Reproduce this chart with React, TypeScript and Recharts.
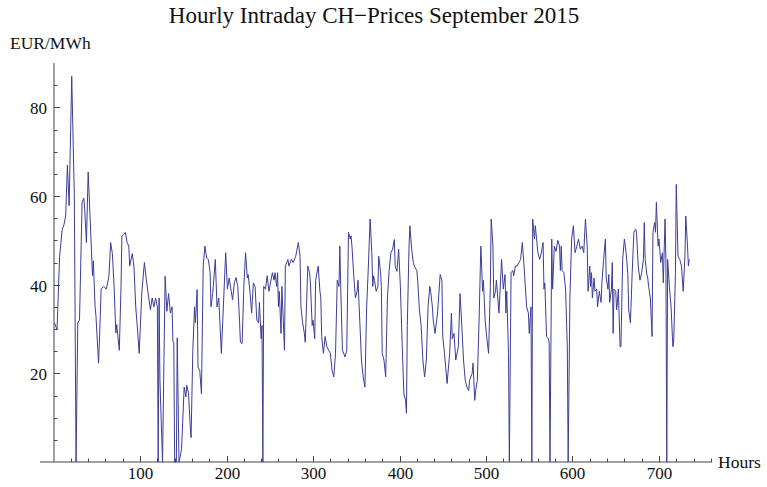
import { LineChart, Line, XAxis, YAxis } from 'recharts';

// hour of the month and intraday price (EUR/MWh)
const HOURS = [
  1, 4, 7, 10, 12, 14, 16, 18, 21, 24, 26, 28, 30, 33, 35, 36, 38, 40, 42, 45, 46, 48, 49, 52, 53, 55,
  58, 61, 64, 66, 68, 70, 72, 73, 76, 78, 79, 81, 83, 85, 87, 88, 91, 93, 95, 97, 99, 102, 105, 107,
  109, 112, 114, 116, 118, 120, 121, 122, 123, 126, 129, 131, 133, 135, 137, 138, 139, 140, 142, 143,
  145, 147, 148, 151, 153, 154, 156, 158, 159, 161, 163, 164, 166, 167, 169, 171, 173, 175, 177, 179,
  181, 182, 184, 187, 189, 191, 194, 197, 199, 201, 203, 205, 207, 209, 211, 213, 215, 216, 218, 220,
  222, 224, 225, 227, 229, 231, 233, 235, 237, 238, 240, 241, 242, 243, 245, 247, 249, 253, 255, 256,
  258, 259, 260, 261, 263, 264, 267, 268, 271, 272, 275, 277, 280, 283, 285, 286, 288, 290, 291, 293,
  294, 296, 297, 299, 300, 302, 303, 306, 308, 309, 310, 312, 314, 316, 318, 320, 322, 324, 326, 328,
  330, 331, 332, 334, 337, 339, 341, 343, 344, 345, 347, 349, 351, 352, 354, 356, 358, 360, 362, 364,
  366, 368, 369, 370, 371, 373, 375, 376, 378, 379, 380, 382, 384, 386, 388, 390, 392, 394, 395, 397,
  399, 401, 403, 405, 407, 408, 409, 411, 412, 414, 416, 417, 420, 421, 423, 425, 427, 429, 431, 433,
  435, 436, 438, 439, 441, 444, 447, 449, 450, 452, 455, 458, 460, 461, 463, 465, 468, 470, 472, 474,
  476, 478, 480, 481, 484, 485, 487, 488, 490, 492, 494, 495, 496, 497, 499, 501, 503, 505, 506, 508,
  509, 511, 512, 515, 518, 520, 522, 523, 524, 526, 527, 529, 531, 532, 534, 536, 538, 540, 542, 544,
  545, 547, 549, 550, 552, 553, 554, 556, 557, 560, 562, 564, 566, 567, 568, 570, 572, 573, 574, 576,
  577, 579, 581, 583, 585, 586, 587, 588, 590, 592, 594, 595, 597, 599, 601, 603, 605, 607, 609, 611,
  613, 615, 617, 618, 620, 621, 622, 623, 625, 626, 628, 629, 631, 633, 634, 636, 638, 639, 641, 642,
  643, 645, 646, 647, 648, 650, 651, 652, 653, 655, 656, 658, 660, 662, 664, 665, 667, 669, 671, 673,
  674, 676, 678, 680, 682, 683, 684, 686, 687, 688, 690, 692, 693, 695, 696, 697, 699, 700, 702, 704,
  705, 707, 708, 709, 710, 712, 714, 716, 717, 719, 720, 722, 724, 726, 728, 730, 731, 733, 734, 735,
];

const PRICES = [
  31.4, 29.8, 46.4, 52.5, 53.5, 55.5, 67, 57.8, 87, 60, 0, 31.4, 32, 58.6, 59.5, 57, 49.5, 65.4, 56.3, 42, 45.4, 35, 33, 22.3, 27, 39,
  39.6, 39, 41.9, 49.5, 47, 39.6, 29.1, 31, 25.2, 39.6, 51, 51.3, 51.8, 49.5, 48.7, 44.2, 47, 44, 35, 30, 24.5, 38.1, 45, 41.5,
  38.5, 34.3, 37, 35, 37, 35, 0, 37, 18.4, 0, 41.9, 34, 38, 33.6, 35, 27.1, 27, 0, 0, 28,
  0, 1.8, 3, 16.9, 14.7, 17.3, 15.5, 8.2, 5.5, 25.2, 35, 31.4, 38.9, 21.4, 20.7, 15.4, 44.2, 48.7, 46, 45.6,
  42.7, 35, 38, 45.7, 35, 37, 24.5, 38.1, 47.2, 39, 41.5, 39, 36.6, 40.4, 41.6, 39.6, 32, 27, 26.7, 39.6,
  47.2, 41.5, 42.3, 38.5, 33.6, 40.4, 39.6, 32, 31.4, 36, 27.8, 30.8, 0, 39.6, 39, 42, 38.5, 42.7, 41, 42.7,
  39.6, 42.7, 35, 38.5, 29, 39.6, 25.2, 44.2, 45.7, 44.2, 45.7, 45, 46.4, 49.5, 46.4, 35, 31.4, 29, 27, 38.5,
  44.2, 42.7, 40.4, 30.8, 32, 27.8, 41, 44.2, 38.5, 37, 28.3, 24.5, 28.3, 26, 25.2, 24.5, 20.7, 19.2, 24.5, 41,
  39.6, 48.7, 39.6, 25.2, 23.7, 25.2, 51.8, 50.3, 51, 48.7, 42.3, 37, 38.5, 41, 32, 23, 19.2, 16.9, 35, 44.2,
  54.8, 47.2, 39.6, 42, 41, 38.5, 39.6, 46.4, 43, 39.6, 24.5, 23, 19.2, 37, 43.2, 47.2, 48, 50.2, 44.2, 43,
  48, 39.6, 27, 15.4, 13.9, 11, 30.8, 48.7, 53.3, 48, 45, 44.2, 43.2, 41, 34.3, 30.8, 23, 19.2, 23, 35,
  39.6, 38.5, 35, 32, 29, 33.6, 42.3, 41, 28.3, 24.5, 17.7, 24.5, 33.6, 27.8, 29, 23, 26, 38, 30.8, 23,
  18.4, 16.9, 16.1, 18.4, 20, 22.3, 13.9, 16.1, 18.4, 32, 48.7, 44, 38.5, 41, 32, 27.8, 24.5, 39.6, 54.8, 48.7,
  37, 38.5, 41, 33.6, 45.7, 39, 42.3, 33.6, 38.5, 24.5, 0, 42.7, 43.2, 42, 44.2, 44.2, 45, 45.7, 49.5, 44.2,
  41, 35, 33.6, 29, 35, 0, 54.8, 50.3, 53.3, 47.2, 45.7, 47.2, 49.5, 39, 40.4, 28.3, 27.8, 27, 0, 50.3,
  39, 48.7, 47.5, 50, 48.7, 43.2, 48.7, 43.2, 42.7, 39, 26, 0, 37, 50.3, 53.3, 47.2, 48.7, 50.3, 48, 48.7,
  47.2, 54.8, 48.7, 38.5, 44.2, 39.6, 42.7, 37, 41.5, 38.5, 39, 35, 38.5, 36, 40.4, 45.7, 50.3, 41.5, 39, 42.3,
  36, 39, 45, 29, 39, 38.5, 34.3, 36, 39, 26, 26, 45.7, 50.3, 47.2, 42.3, 34.3, 31.4, 42.7, 51.8, 52.5,
  51.8, 44.2, 41, 42.7, 45.7, 54, 45.7, 42.3, 41.5, 39.6, 37, 28.3, 51.8, 54, 51.8, 58.6, 48.7, 50.3, 45, 47.2,
  40.4, 54.8, 45.7, 0, 45.7, 39.6, 35, 26, 27, 42.3, 62.6, 46.4, 45.7, 44.2, 38.5, 46.4, 55.5, 48.7, 44.2, 45.7,
];

const X_TICKS = [20, 40, 60, 80, 100, 120, 140, 160, 180, 200, 220, 240, 260, 280, 300, 320, 340, 360, 380, 400,
  420, 440, 460, 480, 500, 520, 540, 560, 580, 600, 620, 640, 660, 680, 700, 720, 740, 760];
const Y_TICKS = [5, 10, 15, 20, 25, 30, 35, 40, 45, 50, 55, 60, 65, 70, 75, 80, 85];

const data = HOURS.map((h, i) => ({ hour: h, price: PRICES[i] }));

const FONT = '"Liberation Serif", "DejaVu Serif", serif';
const AXIS = '#444';

const XTick = (props: any) => {
  const x = Math.round(Number(props.x)) + 0.5;
  const y = Number(props.y);
  const v = props.payload.value;
  const major = v % 100 === 0;
  const len = major ? 6 : 3.5;
  return (
    <g>
      <path d={`M${x},${y}L${x},${y - len}`} stroke={AXIS} strokeWidth={1} fill="none" />
      {major && (
        <text x={x} y={y + 17} textAnchor="middle" fontFamily={FONT} fontSize={17} fill="#111">
          {v}
        </text>
      )}
    </g>
  );
};

const YTick = (props: any) => {
  const x = Number(props.x);
  const y = Math.round(Number(props.y)) + 0.5;
  const v = props.payload.value;
  const major = v % 20 === 0;
  const len = major ? 6 : 3.5;
  return (
    <g>
      <path d={`M${x},${y}L${x + len},${y}`} stroke={AXIS} strokeWidth={1} fill="none" />
      {major && (
        <text x={x - 7} y={y + 6} textAnchor="end" fontFamily={FONT} fontSize={17} fill="#111">
          {v}
        </text>
      )}
    </g>
  );
};

export default function App() {
  return (
    <div style={{ position: 'absolute', left: 0, top: 0, width: 767, height: 487, background: '#fff' }}>
      <LineChart width={767} height={487} data={data} margin={{ top: 63, right: 55, bottom: 0, left: 0 }}>
        <XAxis
          dataKey="hour"
          type="number"
          domain={[0.5, 761.3]}
          ticks={X_TICKS}
          interval={0}
          tickLine={false}
          tickSize={0}
          tickMargin={0}
          tick={XTick}
          height={25}
          axisLine={{ stroke: AXIS }}
        />
        <YAxis
          type="number"
          domain={[0, 90]}
          ticks={Y_TICKS}
          interval={0}
          tickLine={false}
          tickSize={0}
          tickMargin={0}
          tick={YTick}
          width={54}
          axisLine={{ stroke: AXIS }}
        />
        <Line
          type="linear"
          dataKey="price"
          stroke="#3d3d99"
          strokeWidth={1}
          dot={false}
          isAnimationActive={false}
        />
      </LineChart>
      <svg width={767} height={487} style={{ position: 'absolute', left: 0, top: 0, pointerEvents: 'none' }}>
        <line x1={40} y1={462} x2={54} y2={462} stroke={AXIS} strokeWidth={1} />
        <text x={374} y={23} textAnchor="middle" fontFamily={FONT} fontSize={23} fill="#111">
          Hourly Intraday CH−Prices September 2015
        </text>
        <text x={10} y={49} fontFamily={FONT} fontSize={17.5} fill="#111">
          EUR/MWh
        </text>
        <text x={718} y={468} fontFamily={FONT} fontSize={17.5} fill="#111">
          Hours
        </text>
      </svg>
    </div>
  );
}
